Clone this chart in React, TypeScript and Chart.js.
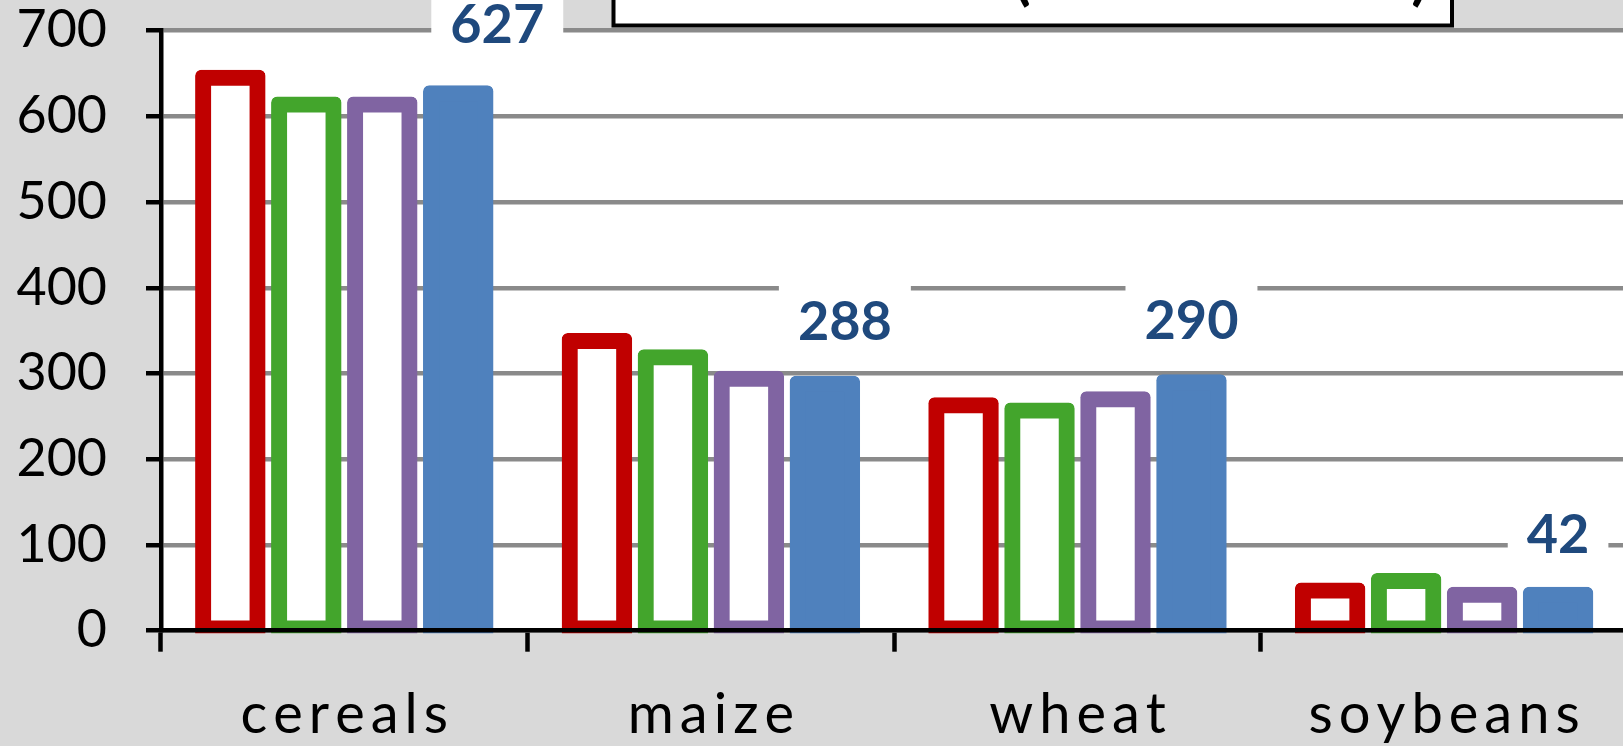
import React, { useEffect, useRef } from 'react';
import { Chart, registerables } from 'chart.js';

Chart.register(...registerables);

// ---- data ----
const categories = ['cereals', 'maize', 'wheat', 'soybeans'];
const seriesNames = ['Series 1', 'Series 2', 'Series 3', 'Series 4'];
const series1 = [645, 338, 263, 47];
const series2 = [614, 319, 257, 58];
const series3 = [614, 294, 270, 42];
const series4 = [627, 288, 290, 42];
const yMin = 0;
const yMax = 700;
const yStep = 100;
const titleMain = 'Production';
const titleUnit = '(million tonnes)';

// ---- layout / style ----
const W = 1630;
const H = 746;
const PLOT_TOP = 30.7;
const PLOT_BOTTOM = 630.7;
const PLOT_LEFT = 161;
const PLOT_RIGHT = 1627.4;
const BORDER = 16;
const INFLATE = 8;
const LETTER_SPACING = 6;
const labelDx = [39, 20, 0, 0];
const labelDy = [42, 36, 35, 34];
const COLORS = ['#c00000', '#43a52c', '#8064a2', '#4f81bd'];

const decorPlugin = {
  id: 'decor',
  beforeDraw(chart: any) {
    const { ctx, chartArea: a } = chart;
    ctx.save();
    ctx.fillStyle = '#d9d9d9';
    ctx.fillRect(0, 0, chart.width, chart.height);
    ctx.fillStyle = '#ffffff';
    ctx.fillRect(a.left, a.top, a.right - a.left, a.bottom - a.top);
    ctx.restore();
  },
  afterDraw(chart: any) {
    const ctx = chart.ctx;
    const xs = chart.scales.x;
    ctx.save();

    // category labels (letter-spaced)
    ctx.font = '56px Lato';
    ctx.fillStyle = '#000000';
    ctx.textBaseline = 'alphabetic';
    ctx.textAlign = 'left';
    categories.forEach((c, i) => {
      const cx = xs.getPixelForValue(i);
      const chars = Array.from(c);
      const widths = chars.map((ch) => ctx.measureText(ch).width);
      const total = widths.reduce((s, w) => s + w, 0) + LETTER_SPACING * (chars.length - 1);
      let px = cx - total / 2;
      chars.forEach((ch, k) => {
        ctx.fillText(ch, px, 733);
        px += widths[k] + LETTER_SPACING;
      });
    });

    // data labels for last series
    const meta = chart.getDatasetMeta(3);
    ctx.font = 'bold 54px Lato';
    ctx.textAlign = 'center';
    ctx.textBaseline = 'alphabetic';
    meta.data.forEach((bar: any, i: number) => {
      const txt = String(series4[i]);
      const tw = ctx.measureText(txt).width;
      const cx = bar.x + labelDx[i];
      const base = bar.y - INFLATE - labelDy[i];
      const cy = base - 19;
      ctx.fillStyle = '#ffffff';
      ctx.fillRect(cx - tw / 2 - 19, cy - 36, tw + 38, 72);
      ctx.fillStyle = '#1f497d';
      ctx.fillText(txt, cx, base);
    });

    // title box (cut off at top)
    const bx1 = 613.5;
    const bx2 = 1452;
    const by2 = 25.5;
    ctx.fillStyle = '#ffffff';
    ctx.fillRect(bx1, -20, bx2 - bx1, by2 + 20);
    ctx.font = 'bold 100px Lato';
    const wUnit100 = ctx.measureText(titleUnit).width;
    const F = (100 * 414) / wUnit100;
    ctx.font = `bold ${F}px Lato`;
    const wMain = ctx.measureText(titleMain + ' ').width;
    ctx.textAlign = 'left';
    ctx.textBaseline = 'alphabetic';
    ctx.fillStyle = '#000000';
    ctx.fillText(titleMain + ' ' + titleUnit, 1014 - wMain, 9 - 0.18 * F);
    ctx.strokeStyle = '#000000';
    ctx.lineWidth = 4;
    ctx.strokeRect(bx1, -20, bx2 - bx1, by2 + 20);

    ctx.restore();
  },
};

function makeDataset(label: string, data: number[], color: string, filled: boolean) {
  return {
    label,
    data,
    backgroundColor: filled ? color : '#ffffff',
    borderColor: color,
    borderWidth: BORDER,
    borderSkipped: false,
    inflateAmount: INFLATE,
    borderRadius: { topLeft: 6, topRight: 6, bottomLeft: 0, bottomRight: 0 },
    clip: { left: 30, top: 80, right: 30, bottom: 2.5 },
  };
}

export default function App() {
  const ref = useRef<HTMLCanvasElement | null>(null);

  useEffect(() => {
    const canvas = ref.current;
    if (!canvas) return;
    const chart = new Chart(canvas, {
      type: 'bar',
      data: {
        labels: categories,
        datasets: [
          makeDataset(seriesNames[0], series1, COLORS[0], false),
          makeDataset(seriesNames[1], series2, COLORS[1], false),
          makeDataset(seriesNames[2], series3, COLORS[2], false),
          makeDataset(seriesNames[3], series4, COLORS[3], true),
        ] as any,
      },
      options: {
        animation: false,
        responsive: false,
        devicePixelRatio: 1,
        layout: {
          padding: { top: PLOT_TOP, right: W - PLOT_RIGHT, bottom: 0, left: 0 },
        },
        categoryPercentage: 0.829,
        barPercentage: 0.717,
        plugins: {
          legend: { display: false },
          title: { display: false },
          tooltip: { enabled: false },
        },
        scales: {
          x: {
            type: 'category',
            offset: true,
            grid: {
              display: true,
              offset: true,
              drawOnChartArea: false,
              drawTicks: true,
              tickLength: 21,
              tickColor: '#000000',
              tickWidth: 4.5,
            },
            border: { display: true, color: '#000000', width: 4.5, z: 1 },
            ticks: { display: false },
            afterFit: (s: any) => {
              s.height = H - PLOT_BOTTOM;
              s.paddingLeft = 0;
              s.paddingRight = 0;
            },
          },
          y: {
            min: yMin,
            max: yMax,
            ticks: {
              stepSize: yStep,
              color: '#000000',
              padding: 39,
              font: { family: 'Lato', size: 52, lineHeight: 1 },
            },
            grid: {
              color: '#8a8a8a',
              lineWidth: 4.5,
              drawTicks: true,
              tickLength: 15,
              tickColor: '#000000',
              tickWidth: 4.5,
            },
            border: { display: true, color: '#000000', width: 4.5 },
            afterFit: (s: any) => {
              s.width = PLOT_LEFT;
              s.paddingTop = 0;
              s.paddingBottom = 0;
            },
          },
        },
      } as any,
      plugins: [decorPlugin],
    });
    return () => chart.destroy();
  }, []);

  return (
    <div
      style={{
        position: 'fixed',
        left: 0,
        top: 0,
        width: 1623,
        height: 746,
        overflow: 'hidden',
        background: '#d9d9d9',
      }}
    >
      <canvas ref={ref} width={W} height={H} style={{ width: W, height: H, display: 'block' }} />
    </div>
  );
}
